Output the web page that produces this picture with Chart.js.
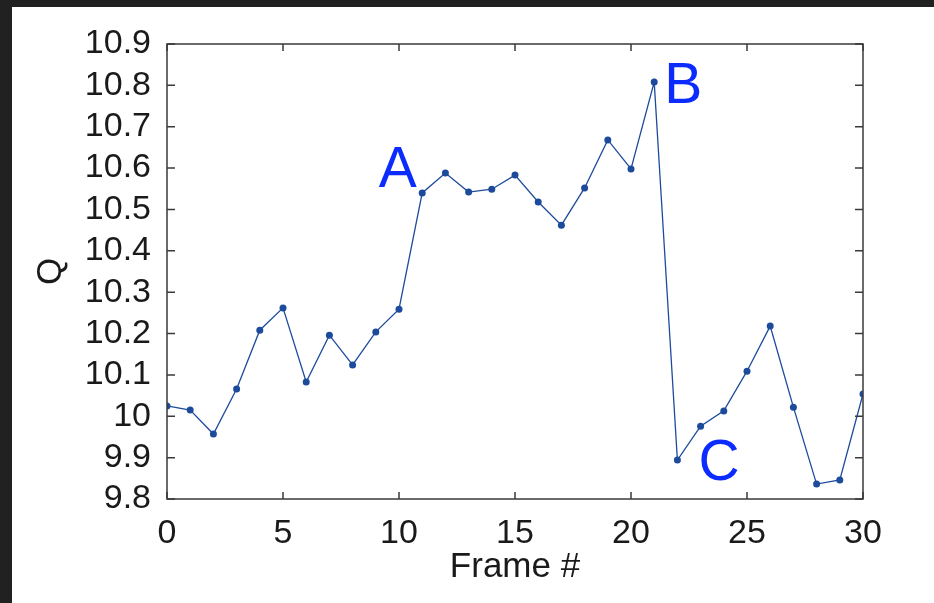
<!DOCTYPE html>
<html>
<head>
<meta charset="utf-8">
<script src="https://cdn.jsdelivr.net/npm/chart.js@4/dist/chart.umd.min.js"></script>
<style>
  body { margin: 0; background: #212121; width: 934px; height: 603px; overflow: hidden; }
  #wrap { position: absolute; left: 12px; top: 7px; width: 922px; height: 596px; background: #fff; }
</style>
</head>
<body>
<div id="wrap"><canvas id="myChart" width="922" height="596"></canvas></div>
<script>
// frame numbers and Q values
const frames = [0,1,2,3,4,5,6,7,8,9,10,11,12,13,14,15,16,17,18,19,20,21,22,23,24,25,26,27,28,29,30];
const qValues = [10.025,10.015,9.957,10.066,10.208,10.262,10.083,10.196,10.124,10.204,10.259,
                 10.540,10.588,10.542,10.549,10.583,10.518,10.462,10.552,10.668,10.598,10.808,
                 9.894,9.976,10.013,10.109,10.218,10.022,9.836,9.846,10.054];

// annotation letters (x in frames, y = baseline in Q units)
const noteText = ['A','B','C'];
const noteX = [9.95, 22.25, 23.8];
const noteY = [10.554, 10.757, 9.846];

const fontFam = '"Liberation Sans", Arial, Helvetica, sans-serif';

const frameTicks = {
    id: 'frameTicks',
    afterDraw: (chart) => {
        const {ctx, chartArea: {left, right, top, bottom}, scales: {x, y}} = chart;
        ctx.save();
        ctx.strokeStyle = '#3a3a3a';
        ctx.lineWidth = 1.5;
        ctx.strokeRect(left, top, right - left, bottom - top);
        ctx.beginPath();
        x.ticks.forEach(t => {
            const px = x.getPixelForValue(t.value);
            ctx.moveTo(px, bottom); ctx.lineTo(px, bottom - 7);
            ctx.moveTo(px, top); ctx.lineTo(px, top + 7);
        });
        y.ticks.forEach(t => {
            const py = y.getPixelForValue(t.value);
            ctx.moveTo(left, py); ctx.lineTo(left + 8, py);
            ctx.moveTo(right, py); ctx.lineTo(right - 8, py);
        });
        ctx.stroke();

        // letters A B C
        ctx.font = '57px ' + fontFam;
        ctx.fillStyle = '#0c2cff';
        ctx.textAlign = 'center';
        ctx.textBaseline = 'alphabetic';
        noteText.forEach((s, i) => {
            ctx.fillText(s, x.getPixelForValue(noteX[i]), y.getPixelForValue(noteY[i]));
        });
        ctx.restore();
    }
};

const config = {
    type: 'line',
    data: {
        datasets: [{
            data: frames.map((f, i) => ({x: f, y: qValues[i]})),
            borderColor: '#1d4b9c',
            backgroundColor: '#1d4b9c',
            borderWidth: 1.3,
            pointRadius: 3.5,
            pointBorderWidth: 0,
            tension: 0
        }]
    },
    options: {
        responsive: false,
        animation: false,
        layout: { padding: { top: 37, right: 71, left: 0, bottom: 0 } },
        plugins: { legend: { display: false }, tooltip: { enabled: false } },
        scales: {
            x: {
                type: 'linear',
                min: 0, max: 30,
                afterFit: (s) => { s.height = 104; },
                grid: { display: false, drawTicks: false },
                border: { display: false },
                ticks: {
                    stepSize: 5, padding: 14, color: '#1a1a1a',
                    font: { family: fontFam, size: 34 },
                    maxRotation: 0, autoSkip: false
                },
                title: {
                    display: true, text: 'Frame #', color: '#1a1a1a',
                    font: { family: fontFam, size: 35 },
                    padding: { top: 0, bottom: 15 }
                }
            },
            y: {
                min: 9.8, max: 10.9,
                afterFit: (s) => { s.width = 155; },
                grid: { display: false, drawTicks: false },
                border: { display: false },
                ticks: {
                    stepSize: 0.1, padding: 16, color: '#1a1a1a',
                    font: { family: fontFam, size: 34 },
                    autoSkip: false,
                    callback: (v) => String(parseFloat(v.toFixed(1)))
                },
                title: {
                    display: true, text: 'Q', color: '#1a1a1a',
                    font: { family: fontFam, size: 35 },
                    padding: { top: 18, bottom: 0 }
                }
            }
        }
    },
    plugins: [frameTicks]
};

const myChart = new Chart(document.getElementById('myChart'), config);
</script>
</body>
</html>
